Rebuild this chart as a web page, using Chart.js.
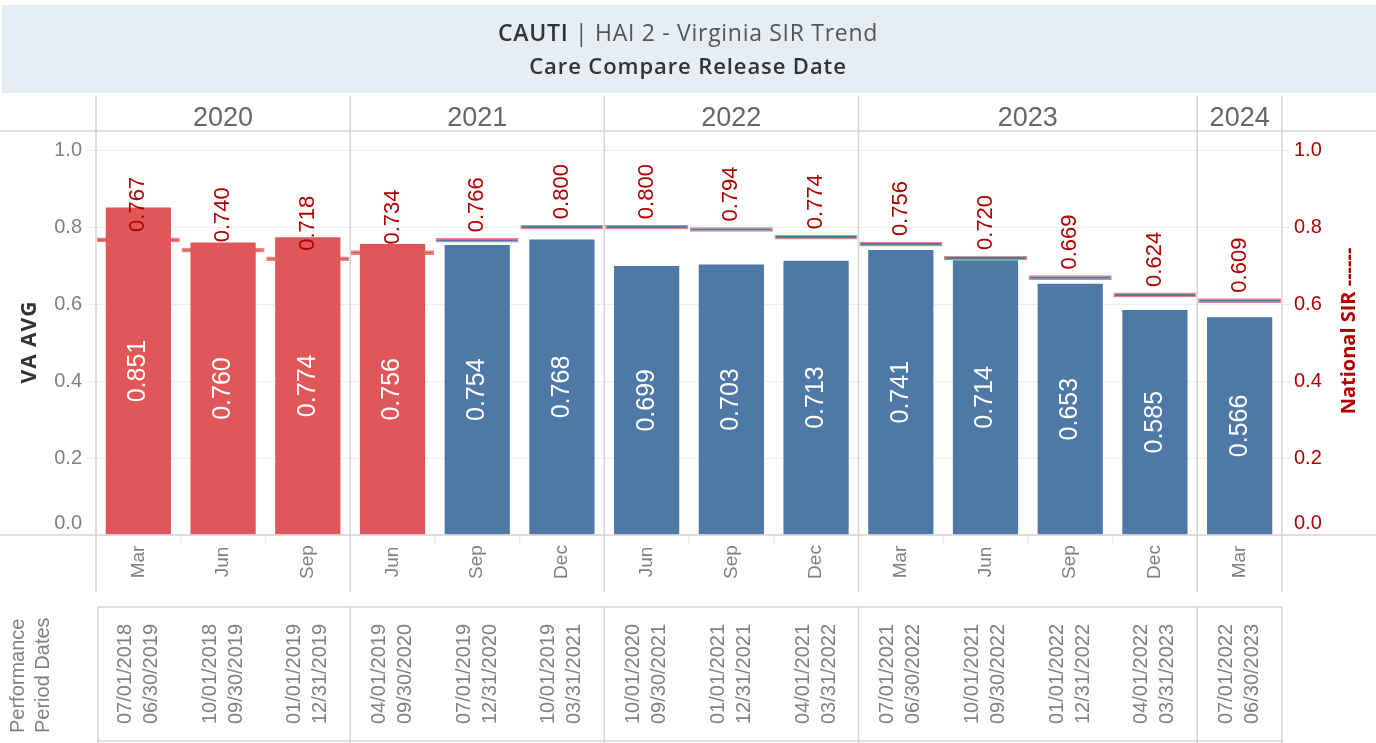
<!DOCTYPE html>
<html>
<head>
<meta charset="utf-8">
<title>CAUTI | HAI 2 - Virginia SIR Trend</title>
<script src="https://cdn.jsdelivr.net/npm/chart.js@4.4.1/dist/chart.umd.min.js"></script>
<style>
  html, body { margin: 0; padding: 0; background: #fff; }
  #sirChart { display: block; }
</style>
</head>
<body>
<canvas id="sirChart" width="1376" height="743"></canvas>
<script>
// Care Compare release (year / month) per bar
const releaseYears = ["2020", "2020", "2020", "2021", "2021", "2021", "2022", "2022", "2022", "2023", "2023", "2023", "2023", "2024"];
const releaseMonths = ["Mar", "Jun", "Sep", "Jun", "Sep", "Dec", "Jun", "Sep", "Dec", "Mar", "Jun", "Sep", "Dec", "Mar"];

// SIR values
const vaAvg = [0.851, 0.760, 0.774, 0.756, 0.754, 0.768, 0.699, 0.703, 0.713, 0.741, 0.714, 0.653, 0.585, 0.566];
const nationalSir = [0.767, 0.740, 0.718, 0.734, 0.766, 0.800, 0.800, 0.794, 0.774, 0.756, 0.720, 0.669, 0.624, 0.609];

// performance periods behind each release
const periodStart = ["07/01/2018", "10/01/2018", "01/01/2019", "04/01/2019", "07/01/2019", "10/01/2019", "10/01/2020", "01/01/2021", "04/01/2021", "07/01/2021", "10/01/2021", "01/01/2022", "04/01/2022", "07/01/2022"];
const periodEnd = ["06/30/2019", "09/30/2019", "12/31/2019", "09/30/2020", "12/31/2020", "03/31/2021", "09/30/2021", "12/31/2021", "03/31/2022", "06/30/2022", "09/30/2022", "12/31/2022", "03/31/2023", "06/30/2023"];

const sirMin = 0;
const sirMax = 1.05;
const sirStep = 0.2;

const RED = "#e15759";
const BLUE = "#4e79a7";
const DARK_RED = "#b00000";
const GREY_TEXT = "#808080";
const RULE = "#d4d4d4";
const NUM_FONT = '"Liberation Sans", Arial, sans-serif';
const TITLE_FONT = '"Open Sans", "Noto Sans", sans-serif';
const NAT_HALF = 0.006; // half thickness of the national marker, in SIR units

// red when Virginia is worse than national
const barColors = vaAvg.map((v, i) => (v > nationalSir[i] ? RED : BLUE));

// consecutive runs of the same year -> header cells
function yearGroups() {
  const groups = [];
  releaseYears.forEach((yr, i) => {
    const last = groups[groups.length - 1];
    if (last && last.year === yr) last.end = i;
    else groups.push({ year: yr, start: i, end: i });
  });
  return groups;
}

function rotatedText(ctx, text, x, y, align) {
  ctx.save();
  ctx.translate(x, y);
  ctx.rotate(-Math.PI / 2);
  ctx.textAlign = align;
  ctx.textBaseline = "middle";
  ctx.fillText(text, 0, 0);
  ctx.restore();
}

function vline(ctx, x, y0, y1) {
  ctx.beginPath();
  ctx.moveTo(x, y0);
  ctx.lineTo(x, y1);
  ctx.stroke();
}

function hline(ctx, x0, x1, y) {
  ctx.beginPath();
  ctx.moveTo(x0, y);
  ctx.lineTo(x1, y);
  ctx.stroke();
}

const tableauFrame = {
  id: "tableauFrame",
  beforeDraw(chart) {
    const { ctx, width } = chart;
    ctx.save();
    // title band
    ctx.fillStyle = "#e6eef4";
    ctx.fillRect(2, 5, width - 2, 88);

    ctx.letterSpacing = "0.7px";
    const parts = [
      { text: "CAUTI", font: "600 23px " + TITLE_FONT, color: "#333" },
      { text: " | HAI 2 - Virginia SIR Trend", font: "23px " + TITLE_FONT, color: "#555" },
    ];
    let total = 0;
    parts.forEach((p) => {
      ctx.font = p.font;
      p.w = ctx.measureText(p.text).width;
      total += p.w;
    });
    let x = width / 2 - total / 2;
    ctx.textBaseline = "alphabetic";
    ctx.textAlign = "left";
    parts.forEach((p) => {
      ctx.font = p.font;
      ctx.fillStyle = p.color;
      ctx.fillText(p.text, x, 41);
      x += p.w;
    });
    ctx.letterSpacing = "0.9px";
    ctx.font = "600 22px " + TITLE_FONT;
    ctx.fillStyle = "#333";
    ctx.textAlign = "center";
    ctx.fillText("Care Compare Release Date", width / 2, 74);
    ctx.restore();
  },

  afterDatasetsDraw(chart) {
    const { ctx } = chart;
    const bars = chart.getDatasetMeta(0).data;
    const marks = chart.getDatasetMeta(1).data;
    ctx.save();
    ctx.font = "25px " + NUM_FONT;
    ctx.fillStyle = "#fff";
    bars.forEach((el, i) => {
      rotatedText(ctx, vaAvg[i].toFixed(3), el.x, (el.y + el.base) / 2, "center");
    });
    ctx.font = "22px " + NUM_FONT;
    ctx.fillStyle = DARK_RED;
    marks.forEach((el, i) => {
      const mid = (el.y + el.base) / 2;
      rotatedText(ctx, nationalSir[i].toFixed(3), el.x, mid - 8, "left");
    });
    ctx.restore();
  },

  afterDraw(chart) {
    const { ctx, width, chartArea: area, scales } = chart;
    const x = scales.x;
    const step = x.getPixelForValue(1) - x.getPixelForValue(0);
    const groups = yearGroups();
    const bounds = [area.left];
    groups.forEach((g) => bounds.push(x.getPixelForValue(g.end) + step / 2));

    ctx.save();
    ctx.strokeStyle = RULE;
    ctx.lineWidth = 1.5;
    // header + axis rules
    hline(ctx, 0, width, area.top);
    hline(ctx, 0, width, area.bottom);
    bounds.forEach((b) => vline(ctx, b, 96, 592));

    // faint stubs between months
    ctx.strokeStyle = "#ececec";
    releaseMonths.forEach((m, i) => {
      if (i === 0) return;
      const b = x.getPixelForValue(i) - step / 2;
      if (bounds.some((v) => Math.abs(v - b) < 1)) return;
      vline(ctx, b, area.bottom + 1, area.bottom + 10);
    });

    // performance period box
    ctx.strokeStyle = RULE;
    const boxLeft = area.left + 2;
    hline(ctx, boxLeft, area.right, 607);
    hline(ctx, boxLeft, area.right, 741);
    vline(ctx, boxLeft, 607, 743);
    bounds.slice(1).forEach((b) => vline(ctx, b, 607, 743));

    // zero labels sit just above the baseline, tableau style
    const zeroY = scales.y.getPixelForValue(sirMin) - 12;
    ctx.font = "20px " + NUM_FONT;
    ctx.textBaseline = "middle";
    ctx.textAlign = "right";
    ctx.fillStyle = GREY_TEXT;
    ctx.fillText(sirMin.toFixed(1), area.left - 14, zeroY);
    ctx.textAlign = "left";
    ctx.fillStyle = DARK_RED;
    ctx.fillText(sirMin.toFixed(1), area.right + 12, zeroY);

    // year headers
    ctx.fillStyle = "#666";
    ctx.font = "27px " + NUM_FONT;
    ctx.textAlign = "center";
    ctx.textBaseline = "alphabetic";
    groups.forEach((g) => {
      const cx = (x.getPixelForValue(g.start) + x.getPixelForValue(g.end)) / 2;
      ctx.fillText(g.year, cx, 126);
    });

    // release months
    ctx.fillStyle = GREY_TEXT;
    ctx.font = "19px " + NUM_FONT;
    releaseMonths.forEach((m, i) => {
      rotatedText(ctx, m, x.getPixelForValue(i), 562, "center");
    });

    // performance period dates
    ctx.font = "20px " + NUM_FONT;
    releaseMonths.forEach((m, i) => {
      const cx = x.getPixelForValue(i);
      rotatedText(ctx, periodStart[i], cx - 13, 674, "center");
      rotatedText(ctx, periodEnd[i], cx + 13, 674, "center");
    });
    rotatedText(ctx, "Performance", 18, 733, "left");
    rotatedText(ctx, "Period Dates", 43, 733, "left");

    // axis titles
    ctx.font = "bold 21px " + TITLE_FONT;
    ctx.fillStyle = "#333";
    ctx.letterSpacing = "1px";
    rotatedText(ctx, "VA AVG", 30, 342, "center");
    ctx.letterSpacing = "0px";
    ctx.font = "bold 20px " + TITLE_FONT;
    ctx.fillStyle = DARK_RED;
    rotatedText(ctx, "National SIR ------", 1349, 331, "center");
    ctx.restore();
  },
};

const sirTickCallback = (v) => (v === sirMin ? "" : v.toFixed(1));

new Chart(document.getElementById("sirChart"), {
  type: "bar",
  data: {
    labels: releaseMonths,
    datasets: [
      {
        label: "VA AVG",
        data: vaAvg,
        backgroundColor: barColors,
        barPercentage: 0.77,
        categoryPercentage: 1,
        grouped: false,
        order: 1,
        yAxisID: "y",
      },
      {
        label: "National SIR",
        data: nationalSir.map((v) => [v - NAT_HALF, v + NAT_HALF]),
        backgroundColor: barColors,
        borderColor: "#f08080",
        borderWidth: 1.2,
        borderSkipped: false,
        barPercentage: 0.98,
        categoryPercentage: 1,
        grouped: false,
        order: 2,
        yAxisID: "y2",
      },
    ],
  },
  options: {
    responsive: false,
    animation: false,
    layout: { padding: { top: 131, bottom: 208, left: 0, right: 0 } },
    plugins: {
      legend: { display: false },
      tooltip: { enabled: false },
    },
    scales: {
      x: { display: false },
      y: {
        position: "left",
        min: sirMin,
        max: sirMax,
        afterFit: (s) => { s.width = 96; },
        border: { display: false },
        grid: { color: "#eeeeee", tickLength: 10 },
        ticks: {
          stepSize: sirStep,
          includeBounds: false,
          color: GREY_TEXT,
          padding: 4,
          font: { family: NUM_FONT, size: 20 },
          callback: sirTickCallback,
        },
      },
      y2: {
        position: "right",
        min: sirMin,
        max: sirMax,
        afterFit: (s) => { s.width = 94; },
        border: { display: false },
        grid: { drawOnChartArea: false, color: "#e6e6e6", tickLength: 8 },
        ticks: {
          stepSize: sirStep,
          includeBounds: false,
          color: DARK_RED,
          padding: 4,
          font: { family: NUM_FONT, size: 20 },
          callback: sirTickCallback,
        },
      },
    },
  },
  plugins: [tableauFrame],
});
</script>
</body>
</html>
